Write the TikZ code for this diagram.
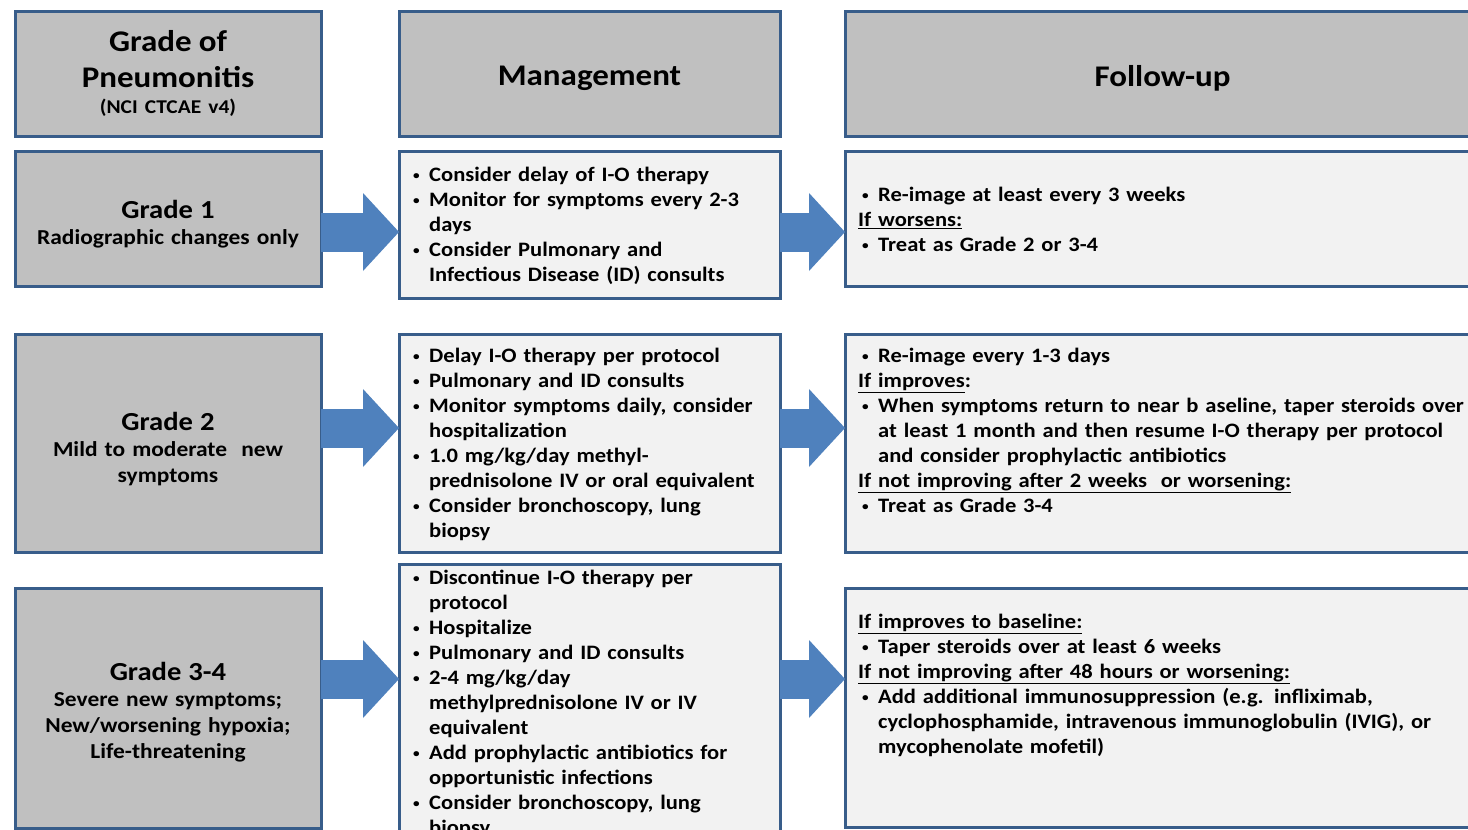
\documentclass[tikz,border=0pt]{standalone}
\usepackage{fontspec}
\setmainfont{Carlito}[FakeStretch=1.10]
\usetikzlibrary{arrows.meta}
\definecolor{boxblue}{RGB}{56,93,138}
\definecolor{boxgray}{RGB}{192,192,192}
\definecolor{boxlight}{RGB}{242,242,242}
\definecolor{arrowblue}{RGB}{79,129,189}
% bullet lines for the management and follow-up boxes
\newcommand{\dotb}{\raisebox{2pt}{\fontsize{12}{12}\selectfont\textbullet}}
\newcommand{\itm}[1]{\par\hangindent=16pt\hangafter=1\noindent\makebox[16pt][l]{\dotb}#1}
\newcommand{\fitm}[1]{\par\hangindent=20pt\hangafter=1\noindent\makebox[20pt][l]{\hspace{4pt}\dotb}#1}
\newcommand{\hd}[1]{\par\noindent\underline{#1}}
\newcommand{\gup}[1]{\rule{0pt}{#1}}
\begin{document}
\begin{tikzpicture}[x=1pt,y=-1pt,
  box/.style={draw=boxblue,line width=3pt,inner sep=0pt,outer sep=0pt,anchor=north west},
  grade/.style={box,fill=boxgray,align=center,text width=300pt,font=\bfseries\fontsize{21.3}{26}\selectfont},
  plain/.style={box,fill=boxlight},
  txt/.style={anchor=north west,inner sep=0pt,text width=#1,font=\bfseries\fontsize{20.5}{25}\selectfont\raggedright},
  bigarrow/.style={arrowblue,line width=39pt,-{Triangle[length=36pt,width=78pt,line width=0pt]}}]
\useasboundingbox (0,0) rectangle (1468,830);
% header row
\node[grade,minimum width=306pt,minimum height=125pt] (hgrade) at (15,11)
  {{\fontsize{30}{36}\selectfont Grade of\\Pneumonitis\\}{\fontsize{19.5}{22}\selectfont (NCI CTCAE v4)}};
\node[grade,minimum width=381pt,minimum height=125pt,font=\bfseries\fontsize{30}{36}\selectfont] (hman) at (399,11) {\gup{30pt}Management};
\node[grade,minimum width=635pt,minimum height=125pt,font=\bfseries\fontsize{30}{36}\selectfont] (hfol) at (845,11) {\gup{30pt}Follow-up};
% grade 1
\node[grade,minimum width=306pt,minimum height=135pt] (g1) at (15,151)
  {{\fontsize{26}{30}\selectfont\gup{30pt}Grade 1}\\Radiographic changes only};
\node[plain,minimum width=381pt,minimum height=147pt] (m1) at (399,151) {};
\node[plain,minimum width=635pt,minimum height=135pt] (f1) at (845,151) {};
% grade 2
\node[grade,minimum width=306pt,minimum height=218pt] (g2) at (15,334)
  {{\fontsize{26}{30}\selectfont\gup{30pt}Grade 2}\\Mild to moderate\ \ new\\symptoms};
\node[plain,minimum width=381pt,minimum height=218pt] (m2) at (399,334) {};
\node[plain,minimum width=635pt,minimum height=218pt] (f2) at (845,334) {};
% grade 3-4
\node[grade,minimum width=306pt,minimum height=240pt] (g3) at (15,588)
  {{\fontsize{26}{30}\selectfont\gup{26pt}Grade 3-4}\\Severe new symptoms;\\New/worsening hypoxia;\\Life-threatening};
\node[plain,minimum width=381pt,minimum height=270pt] (m3) at (399,564) {};
\node[plain,minimum width=635pt,minimum height=239pt] (f3) at (845,588) {};
% box texts
\node[txt=360pt] (m1t) at (413,156) {%
  \itm{Consider delay of I-O therapy}
  \itm{Monitor for symptoms every 2-3\newline days}
  \itm{Consider Pulmonary and\newline Infectious Disease (ID) consults}\par};
\node[txt=360pt] (m2t) at (413,337) {%
  \itm{Delay I-O therapy per protocol}
  \itm{Pulmonary and ID consults}
  \itm{Monitor symptoms daily, consider\newline hospitalization}
  \itm{1.0 mg/kg/day methyl-\newline prednisolone IV or oral equivalent}
  \itm{Consider bronchoscopy, lung\newline biopsy}\par};
\node[txt=360pt] (m3t) at (413,559) {%
  \itm{Discontinue I-O therapy per\newline protocol}
  \itm{Hospitalize}
  \itm{Pulmonary and ID consults}
  \itm{2-4 mg/kg/day\newline methylprednisolone IV or IV\newline equivalent}
  \itm{Add prophylactic antibiotics for\newline opportunistic infections}
  \itm{Consider bronchoscopy, lung\newline biopsy}\par};
\node[txt=620pt] (f1t) at (858,176) {%
  \fitm{Re-image at least every 3 weeks}
  \hd{If worsens:}
  \fitm{Treat as Grade 2 or 3-4}\par};
\node[txt=620pt] (f2t) at (858,337) {%
  \fitm{Re-image every 1-3 days}
  \par\noindent\underline{If improves}:
  \fitm{When symptoms return to near b aseline, taper steroids over\newline at least 1 month and then resume I-O therapy per protocol\newline and consider prophylactic antibiotics}
  \hd{If not improving after 2 weeks\ \ or worsening:}
  \fitm{Treat as Grade 3-4}\par};
\node[txt=620pt] (f3t) at (858,603) {%
  \hd{If improves to baseline:}
  \fitm{Taper steroids over at least 6 weeks}
  \hd{If not improving after 48 hours or worsening:}
  \fitm{Add additional immunosuppression (e.g. infliximab,\newline cyclophosphamide, intravenous immunoglobulin (IVIG), or\newline mycophenolate mofetil)}\par};
% arrows
\coordinate (a1) at (0,232);
\coordinate (a2) at (0,428);
\coordinate (a3) at (0,679);
\draw[bigarrow] (g1.east |- a1) -- (m1.west |- a1);
\draw[bigarrow] (m1.east |- a1) -- (f1.west |- a1);
\draw[bigarrow] (g2.east |- a2) -- (m2.west |- a2);
\draw[bigarrow] (m2.east |- a2) -- (f2.west |- a2);
\draw[bigarrow] (g3.east |- a3) -- (m3.west |- a3);
\draw[bigarrow] (m3.east |- a3) -- (f3.west |- a3);
\end{tikzpicture}
\end{document}
